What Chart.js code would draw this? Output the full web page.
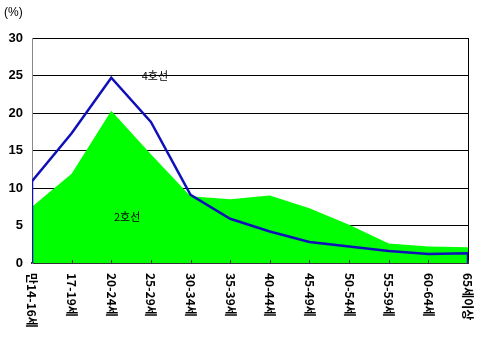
<!DOCTYPE html>
<html>
<head>
<meta charset="utf-8">
<script src="https://cdn.jsdelivr.net/npm/chart.js@4/dist/chart.umd.min.js"></script>
<style>
  html, body { margin: 0; padding: 0; background: #fff; }
  #wrap { width: 489px; height: 345px; position: relative; }
</style>
</head>
<body>
<div id="wrap"><canvas id="c" width="489" height="345"></canvas></div>
<script>
// Age groups along the horizontal axis
const categories = ['만14-16세', '17-19세', '20-24세', '25-29세', '30-34세', '35-39세',
                    '40-44세', '45-49세', '50-54세', '55-59세', '60-64세', '65세이상'];
// Share of riders by age group (%)
const line2Values = [7.5, 11.9, 20.3, 14.5, 8.9, 8.5, 9.0, 7.3, 5.1, 2.6, 2.2, 2.1];
const line4Values = [10.9, 17.3, 24.7, 18.8, 9.1, 5.9, 4.2, 2.8, 2.2, 1.6, 1.2, 1.3];
const yTicks = [0, 5, 10, 15, 20, 25, 30];
const seriesNames = ['2호선', '4호선'];

// Area outline closed down to the baseline at both ends
function outline(values) {
  const pts = [{ x: 0, y: 0 }];
  values.forEach((v, i) => pts.push({ x: i, y: v }));
  pts.push({ x: values.length - 1, y: 0 });
  return pts;
}

const decor = {
  id: 'decor',
  afterDraw(chart) {
    const { ctx, chartArea: a, scales } = chart;
    const xs = scales.x, ys = scales.y;
    ctx.save();
    // right frame edge
    ctx.strokeStyle = '#000';
    ctx.lineWidth = 1;
    ctx.beginPath();
    ctx.moveTo(Math.round(a.right) + 0.5, a.top);
    ctx.lineTo(Math.round(a.right) + 0.5, a.bottom);
    ctx.stroke();
    // unit label
    ctx.fillStyle = '#000';
    ctx.font = '12px "Liberation Sans", Arial, sans-serif';
    ctx.textAlign = 'left';
    ctx.textBaseline = 'middle';
    ctx.fillText('(%)', 4, 13);
    // series name labels
    ctx.font = '11px "Noto Sans CJK KR", sans-serif';
    ctx.textAlign = 'center';
    ctx.fillText(seriesNames[1], xs.getPixelForValue(3.1), ys.getPixelForValue(25.0));
    ctx.fillText(seriesNames[0], xs.getPixelForValue(2.4), ys.getPixelForValue(6.1));
    // category labels, rotated to read top to bottom
    ctx.font = 'bold 12px "Noto Sans CJK KR", sans-serif';
    ctx.textAlign = 'left';
    ctx.textBaseline = 'middle';
    categories.forEach((c, i) => {
      const px = xs.getPixelForValue(i);
      ctx.save();
      ctx.translate(px, a.bottom + 10);
      ctx.rotate(Math.PI / 2);
      ctx.fillText(c, 0, 0);
      ctx.restore();
    });
    // small inward tick marks on the category axis
    ctx.strokeStyle = '#333';
    categories.forEach((c, i) => {
      if (i === 0) return;
      const px = Math.round(xs.getPixelForValue(i)) + 0.5;
      ctx.beginPath();
      ctx.moveTo(px, a.bottom);
      ctx.lineTo(px, a.bottom - 3);
      ctx.stroke();
    });
    ctx.restore();
  }
};

new Chart(document.getElementById('c'), {
  type: 'line',
  data: {
    datasets: [
      {
        label: seriesNames[1],
        data: outline(line4Values),
        borderColor: '#1010b8',
        borderWidth: 2.5,
        fill: false,
        pointRadius: 0,
        tension: 0
      },
      {
        label: seriesNames[0],
        data: line2Values.map((v, i) => ({ x: i, y: v })),
        borderWidth: 0,
        borderColor: 'rgba(0,0,0,0)',
        backgroundColor: '#00ff00',
        fill: 'origin',
        pointRadius: 0,
        tension: 0
      }
    ]
  },
  options: {
    responsive: false,
    animation: false,
    devicePixelRatio: 1,
    layout: { padding: { top: 38, right: 21, left: 0, bottom: 0 } },
    plugins: { legend: { display: false }, tooltip: { enabled: false } },
    scales: {
      x: {
        type: 'linear',
        min: 0,
        max: categories.length - 1,
        grid: { display: false },
        border: { display: true, color: '#333', width: 2 },
        ticks: { display: false },
        afterFit(s) { s.height = 82; }
      },
      y: {
        min: 0,
        max: 30,
        afterBuildTicks(s) { s.ticks = yTicks.map(v => ({ value: v })); },
        grid: { color: '#000', drawTicks: false, lineWidth: 1 },
        border: { display: true, color: '#888', width: 1 },
        ticks: {
          padding: 9,
          color: '#000',
          font: { family: '"Liberation Sans", Arial, sans-serif', size: 13, weight: 'bold' }
        },
        afterFit(s) { s.width = 32; }
      }
    }
  },
  plugins: [decor]
});
</script>
</body>
</html>
